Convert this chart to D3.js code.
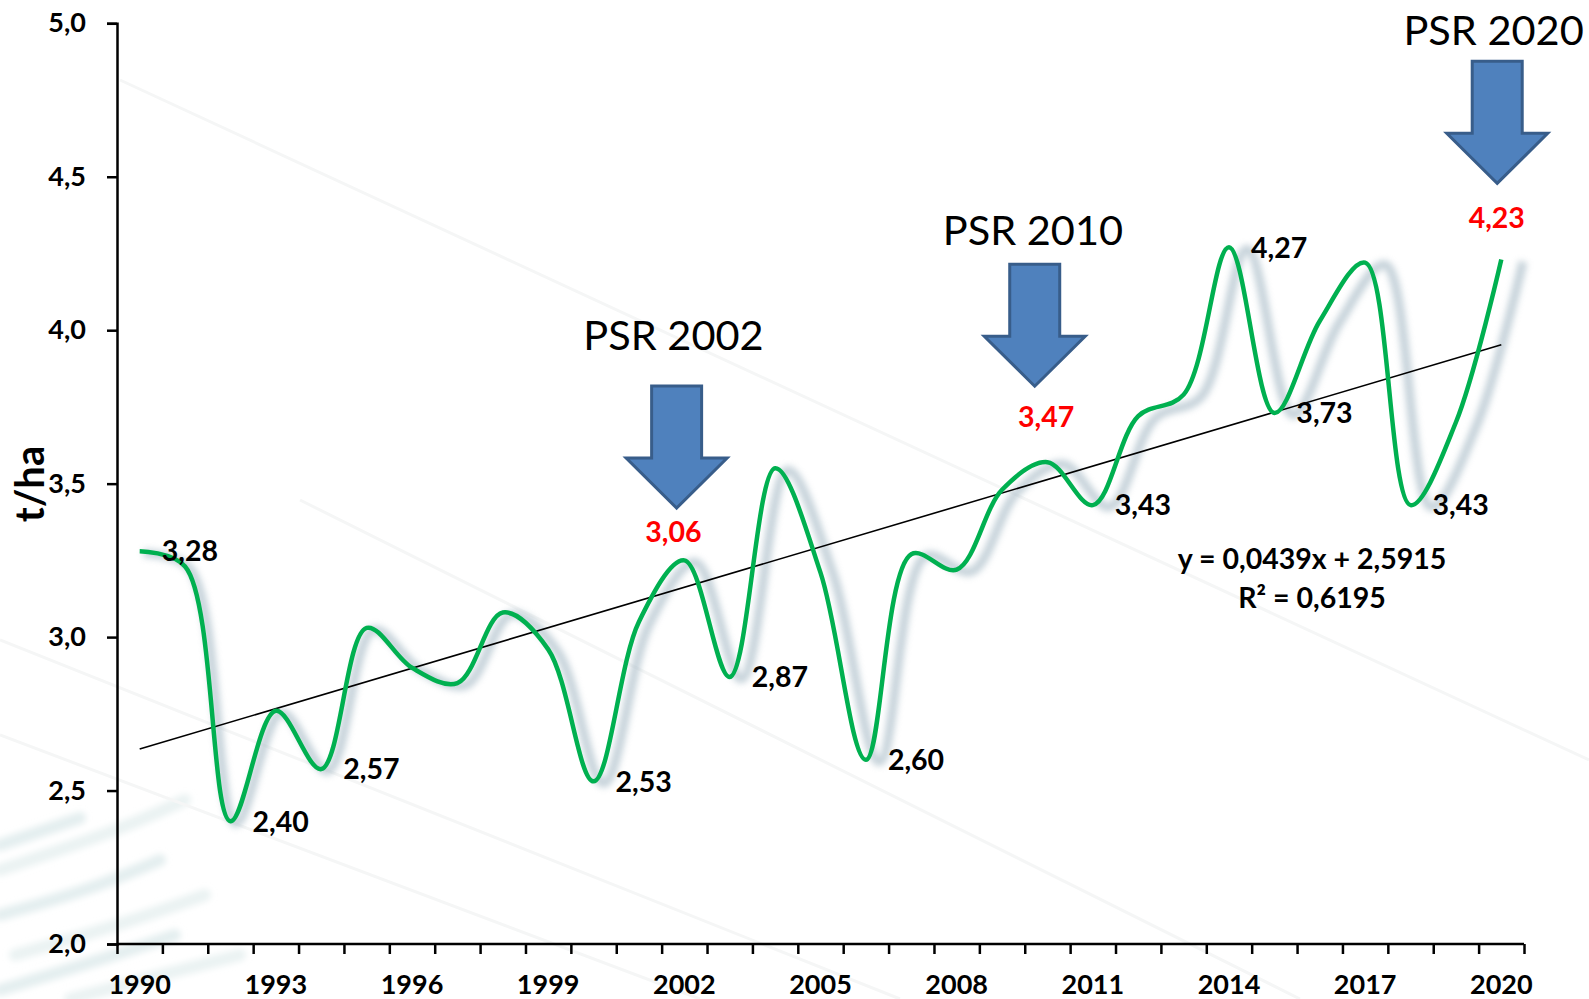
<!DOCTYPE html>
<html>
<head>
<meta charset="utf-8">
<script src="https://cdn.jsdelivr.net/npm/d3@7"></script>
<style>
  html, body { margin: 0; padding: 0; background: #ffffff; }
  svg { display: block; }
  text { font-family: Lato, "Open Sans", sans-serif; }
</style>
</head>
<body>
<svg id="chart" width="1589" height="999"></svg>
<script>
// ---------------- data ----------------
const years = [1990,1991,1992,1993,1994,1995,1996,1997,1998,1999,2000,2001,2002,2003,2004,2005,
               2006,2007,2008,2009,2010,2011,2012,2013,2014,2015,2016,2017,2018,2019,2020];
const yields = [3.28,3.23,2.40,2.76,2.57,3.03,2.90,2.85,3.08,2.96,2.53,3.05,3.25,2.87,3.55,3.21,
                2.60,3.27,3.22,3.48,3.57,3.43,3.72,3.79,4.27,3.73,4.03,4.22,3.43,3.70,4.23];
const labelledYears = [1990,1992,1994,2000,2003,2006,2011,2014,2015,2018];
const xTickLabels = [1990,1993,1996,1999,2002,2005,2008,2011,2014,2017,2020];
const yTicks = [2.0,2.5,3.0,3.5,4.0,4.5,5.0];
const psrTitles = ["PSR 2002","PSR 2010","PSR 2020"];
const psrValues = [3.06,3.47,4.23];
const trendSlope = 0.0439, trendIntercept = 2.5915, rSquared = 0.6195;
const yAxisTitle = "t/ha";

// ---------------- layout (positions in data space) ----------------
const psrLayout = [
  {arrowX: 2001.83, arrowTop: 3.818, titleX: 2001.76, titleY: 3.935, labelX: 2001.76, labelY: 3.309},
  {arrowX: 2009.72, arrowTop: 4.215, titleX: 2009.68, titleY: 4.277, labelX: 2009.97, labelY: 3.684},
  {arrowX: 2019.91, arrowTop: 4.876, titleX: 2019.83, titleY: 4.928, labelX: 2019.90, labelY: 4.332}
];
const eqLayout = {x: 2015.83, y1: 3.221, y2: 3.094};

const fmt = v => d3.format(".2f")(v).replace(".", ",");
const fmt1 = v => d3.format(".1f")(v).replace(".", ",");

const svg = d3.select("#chart");
const plotLeft = 117, plotRight = 1524, plotTop = 23.3, plotBottom = 944;

const xBand = d3.scaleBand().domain(years).range([plotLeft, plotRight]).padding(0);
const bw = xBand.bandwidth();
const xC = yr => xBand(yr) + bw / 2;
const xYear = d3.scaleLinear().domain([1990, 2020]).range([xC(1990), xC(2020)]);
const xEdge = d3.scaleLinear().domain([0, years.length]).range([plotLeft, plotRight]);
const y = d3.scaleLinear().domain([2, 5]).range([plotBottom, plotTop]);

// ---------------- background watermark ----------------
const defs = svg.append("defs");
const blur = defs.append("filter").attr("id", "shadowBlur")
  .attr("x", "-10%").attr("y", "-10%").attr("width", "120%").attr("height", "120%");
blur.append("feGaussianBlur").attr("stdDeviation", 3.2);
const wblur = defs.append("filter").attr("id", "wmBlur");
wblur.append("feGaussianBlur").attr("stdDeviation", 3);

const wm = svg.append("g").attr("filter", "url(#wmBlur)");
const streaks = [
  [[0,870],[120,830],[185,800]], [[0,915],[90,890],[160,860]], [[15,955],[120,925],[205,895]],
  [[0,990],[100,960],[175,935]], [[70,999],[160,975],[240,955]], [[0,845],[80,818]]
];
streaks.forEach((s, i) => {
  wm.append("path")
    .attr("d", d3.line().curve(d3.curveBasis)(s))
    .attr("stroke", i % 2 ? "#dbe8e9" : "#e3eeee")
    .attr("stroke-width", 12)
    .attr("stroke-linecap", "round")
    .attr("opacity", 0.75)
    .attr("fill", "none");
});
const faint = [[[0,640],[900,999]], [[0,735],[700,999]], [[120,80],[1589,760]], [[300,500],[1300,999]]];
faint.forEach(s => {
  svg.append("path").attr("d", d3.line()(s))
    .attr("stroke", "#f5f6f6").attr("stroke-width", 3).attr("fill", "none");
});

// ---------------- axes ----------------
const yAxis = d3.axisLeft(y).tickValues(yTicks).tickSize(10).tickPadding(21).tickFormat(fmt1);
const gy = svg.append("g").attr("transform", `translate(${plotLeft},0)`).call(yAxis);
gy.select(".domain").attr("stroke", "#000").attr("stroke-width", 2.5);
gy.selectAll(".tick line").attr("stroke", "#000").attr("stroke-width", 2.5);
gy.selectAll(".tick text").attr("font-size", 27).attr("font-weight", 700)
  .attr("fill", "#000").attr("font-family", "Lato, sans-serif");

const xTicks = d3.axisBottom(xEdge).tickValues(d3.range(years.length + 1)).tickSize(10).tickFormat("");
const gx = svg.append("g").attr("transform", `translate(0,${plotBottom})`).call(xTicks);
gx.select(".domain").attr("stroke", "#000").attr("stroke-width", 2.5).attr("d", `M${plotLeft},0H${plotRight}`);
gx.selectAll(".tick line").attr("stroke", "#000").attr("stroke-width", 2.5);

const xLab = d3.axisBottom(xBand).tickValues(xTickLabels).tickSize(0).tickPadding(0);
const gxl = svg.append("g").attr("transform", `translate(0,${plotBottom})`).call(xLab);
gxl.select(".domain").remove();
gxl.selectAll(".tick text").attr("y", 49.5).attr("dy", 0)
  .attr("font-size", 27).attr("font-weight", 700).attr("fill", "#000")
  .attr("font-family", "Lato, sans-serif");

svg.append("text")
  .attr("transform", `translate(44,${484}) rotate(-90)`)
  .attr("text-anchor", "middle")
  .attr("font-size", 40).attr("font-weight", 700)
  .text(yAxisTitle);

// ---------------- series ----------------
const pts = years.map((yr, i) => ({year: yr, v: yields[i]}));
const line = d3.line().x(d => xC(d.year)).y(d => y(d.v)).curve(d3.curveCatmullRom.alpha(0.5));

const x0 = xC(1990);
svg.append("path")
  .datum(pts)
  .attr("d", line)
  .attr("fill", "none")
  .attr("stroke", "#a9bcc7")
  .attr("stroke-width", 9)
  .attr("opacity", 0.65)
  .attr("filter", "url(#shadowBlur)")
  .attr("transform", `translate(${x0 + 4},2) scale(1.013,1) translate(${-x0},0)`);

// trend line
const trend = years.map((yr, i) => ({year: yr, v: trendIntercept + trendSlope * (i + 1)}));
svg.append("path")
  .datum([trend[0], trend[trend.length - 1]])
  .attr("d", d3.line().x(d => xC(d.year)).y(d => y(d.v)))
  .attr("stroke", "#000").attr("stroke-width", 1.6).attr("fill", "none");

svg.append("path")
  .datum(pts)
  .attr("d", line)
  .attr("fill", "none")
  .attr("stroke", "#00b050")
  .attr("stroke-width", 4.5)
  .attr("stroke-linejoin", "round");

// data labels
svg.append("g").selectAll("text")
  .data(pts.filter(d => labelledYears.includes(d.year)))
  .join("text")
  .attr("x", d => xC(d.year) + 22)
  .attr("y", d => y(d.v))
  .attr("dy", "0.36em")
  .attr("font-size", 28.5).attr("font-weight", 700).attr("fill", "#000")
  .text(d => fmt(d.v));

// trend equation
svg.append("text").attr("x", xYear(eqLayout.x)).attr("y", y(eqLayout.y1))
  .attr("text-anchor", "middle").attr("font-size", 28.5).attr("font-weight", 700)
  .text(`y = ${d3.format(".4f")(trendSlope).replace(".", ",")}x + ${d3.format(".4f")(trendIntercept).replace(".", ",")}`);
svg.append("text").attr("x", xYear(eqLayout.x)).attr("y", y(eqLayout.y2))
  .attr("text-anchor", "middle").attr("font-size", 28.5).attr("font-weight", 700)
  .text(`R² = ${d3.format(".4f")(rSquared).replace(".", ",")}`);

// ---------------- PSR annotations ----------------
const shaftHalf = 25, headHalf = 50.5, shaftLen = 72, headLen = 50;
psrLayout.forEach((L, i) => {
  const cx = xYear(L.arrowX), ty = y(L.arrowTop);
  const poly = [
    [cx - shaftHalf, ty], [cx + shaftHalf, ty], [cx + shaftHalf, ty + shaftLen],
    [cx + headHalf, ty + shaftLen], [cx, ty + shaftLen + headLen],
    [cx - headHalf, ty + shaftLen], [cx - shaftHalf, ty + shaftLen]
  ];
  svg.append("path").attr("d", d3.line()(poly) + "Z")
    .attr("fill", "#4f81bd").attr("stroke", "#385d8a").attr("stroke-width", 3)
    .attr("stroke-linejoin", "miter");
  svg.append("text").attr("x", xYear(L.titleX)).attr("y", y(L.titleY))
    .attr("text-anchor", "middle").attr("font-size", 41.5).attr("fill", "#000")
    .text(psrTitles[i]);
  svg.append("text").attr("x", xYear(L.labelX)).attr("y", y(L.labelY))
    .attr("text-anchor", "middle").attr("font-size", 28.5).attr("font-weight", 700)
    .attr("fill", "#ff0000")
    .text(fmt(psrValues[i]));
});
</script>
</body>
</html>
